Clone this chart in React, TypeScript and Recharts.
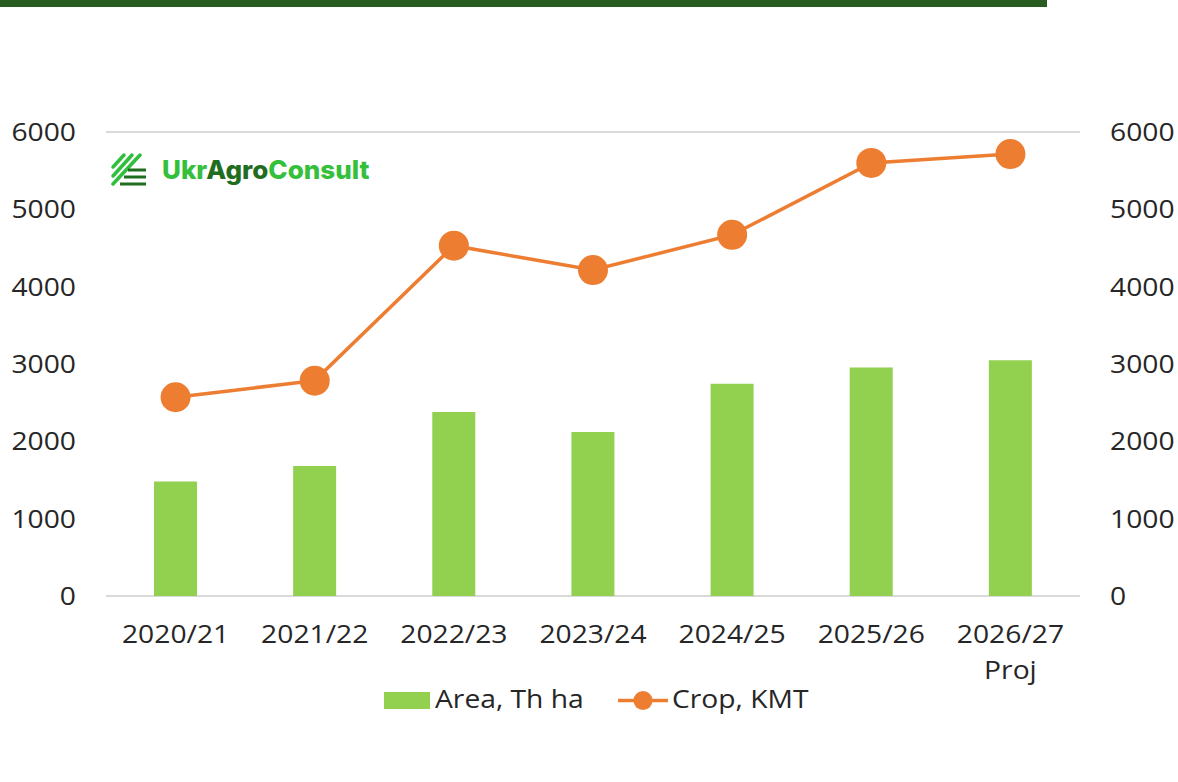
import {
  ComposedChart,
  Bar,
  Line,
  XAxis,
  YAxis,
  CartesianGrid,
} from "recharts";

const seasons = ["2020/21", "2021/22", "2022/23", "2023/24", "2024/25", "2025/26", "2026/27\nProj"];
const areaThHa = [1480, 1680, 2380, 2120, 2745, 2955, 3050];
const cropKmt = [2570, 2785, 4530, 4215, 4670, 5600, 5715];
const yTicks = [0, 1000, 2000, 3000, 4000, 5000, 6000];

const GREEN = "#92D050";
const ORANGE = "#ED7D31";
const TEXT = "#262626";
const FONT = "'Open Sans', sans-serif";
const FS = 25;
const SX = 1.13; // reference text is a bit wider than Open Sans

const data = seasons.map((season, i) => ({
  season,
  area: areaThHa[i],
  crop: cropKmt[i],
}));

function WideText({ x, y, anchor, children }: any) {
  return (
    <text
      transform={`translate(${x},${y}) scale(${SX},1)`}
      textAnchor={anchor}
      fill={TEXT}
      fontSize={FS}
      fontFamily={FONT}
    >
      {children}
    </text>
  );
}

// x tick with a line break for the projected season
function SeasonTick(props: any) {
  const { x, y, payload } = props;
  const lines = String(payload.value).split("\n");
  return (
    <g>
      {lines.map((l, i) => (
        <WideText key={i} x={x} y={y + 39 + i * 36} anchor="middle">
          {l}
        </WideText>
      ))}
    </g>
  );
}

function LeftTick(props: any) {
  const { x, y, payload } = props;
  return (
    <WideText x={x} y={y + 9} anchor="end">
      {payload.value}
    </WideText>
  );
}

function RightTick(props: any) {
  const { x, y, payload } = props;
  return (
    <WideText x={x} y={y + 9} anchor="start">
      {payload.value}
    </WideText>
  );
}

function LegendOverlay() {
  return (
    <svg width={1178} height={782} style={{ position: "absolute", left: 0, top: 0, pointerEvents: "none" }}>
      <rect x={384} y={692} width={46} height={17} fill={GREEN} />
      <WideText x={435} y={708} anchor="start">Area, Th ha</WideText>
      <line x1={618} y1={700.5} x2={668} y2={700.5} stroke={ORANGE} strokeWidth={3.5} />
      <circle cx={643} cy={700.5} r={9.5} fill={ORANGE} />
      <WideText x={672} y={708} anchor="start">Crop, KMT</WideText>
    </svg>
  );
}

function Logo() {
  return (
    <div style={{ position: "absolute", left: 110, top: 152, display: "flex", alignItems: "center" }}>
      <svg width={40} height={34} viewBox="0 0 40 34">
        <g stroke="#2fbf3a" strokeWidth={3.5} strokeLinecap="round">
          <line x1={3} y1={15} x2={14} y2={3} />
          <line x1={3} y1={24} x2={22} y2={3} />
          <line x1={3} y1={32} x2={30} y2={3} />
        </g>
        <g stroke="#1f6e1f" strokeWidth={3}>
          <line x1={18} y1={18} x2={36} y2={18} />
          <line x1={14} y1={25} x2={36} y2={25} />
          <line x1={10} y1={32} x2={36} y2={32} />
        </g>
      </svg>
      <span style={{ marginLeft: 12, fontFamily: "Inter, sans-serif", fontWeight: 800, fontSize: 26 }}>
        <span style={{ color: "#35c03c" }}>Ukr</span>
        <span style={{ color: "#1f6e1f" }}>Agro</span>
        <span style={{ color: "#35c03c" }}>Consult</span>
      </span>
    </div>
  );
}

export default function App() {
  return (
    <div style={{ position: "absolute", left: 0, top: 0, width: 1178, height: 782, background: "#fff" }}>
      <div style={{ position: "absolute", left: 0, top: 0, width: 1047, height: 7, background: "#275e1f" }} />
      <ComposedChart
        width={1178}
        height={782}
        data={data}
        margin={{ top: 132, right: 0, left: 0, bottom: 106 }}
      >
        <CartesianGrid vertical={false} stroke="#d9d9d9" strokeWidth={2} />
        <XAxis
          dataKey="season"
          axisLine={false}
          tickLine={false}
          tick={<SeasonTick />}
          interval={0}
          height={80}
        />
        <YAxis
          yAxisId="left"
          domain={[0, 6000]}
          ticks={yTicks}
          axisLine={false}
          tickLine={false}
          width={106}
          tick={<LeftTick />}
          tickMargin={24}
        />
        <YAxis
          yAxisId="right"
          orientation="right"
          domain={[0, 6000]}
          ticks={yTicks}
          axisLine={false}
          tickLine={false}
          width={98}
          tick={<RightTick />}
          tickMargin={24}
        />
        <Bar yAxisId="left" dataKey="area" name="Area, Th ha" fill={GREEN} barSize={43} isAnimationActive={false} />
        <Line
          yAxisId="right"
          dataKey="crop"
          name="Crop, KMT"
          stroke={ORANGE}
          strokeWidth={3.5}
          dot={{ r: 15, fill: ORANGE, stroke: "none" }}
          activeDot={false}
          isAnimationActive={false}
        />
      </ComposedChart>
      <LegendOverlay />
      <Logo />
    </div>
  );
}
